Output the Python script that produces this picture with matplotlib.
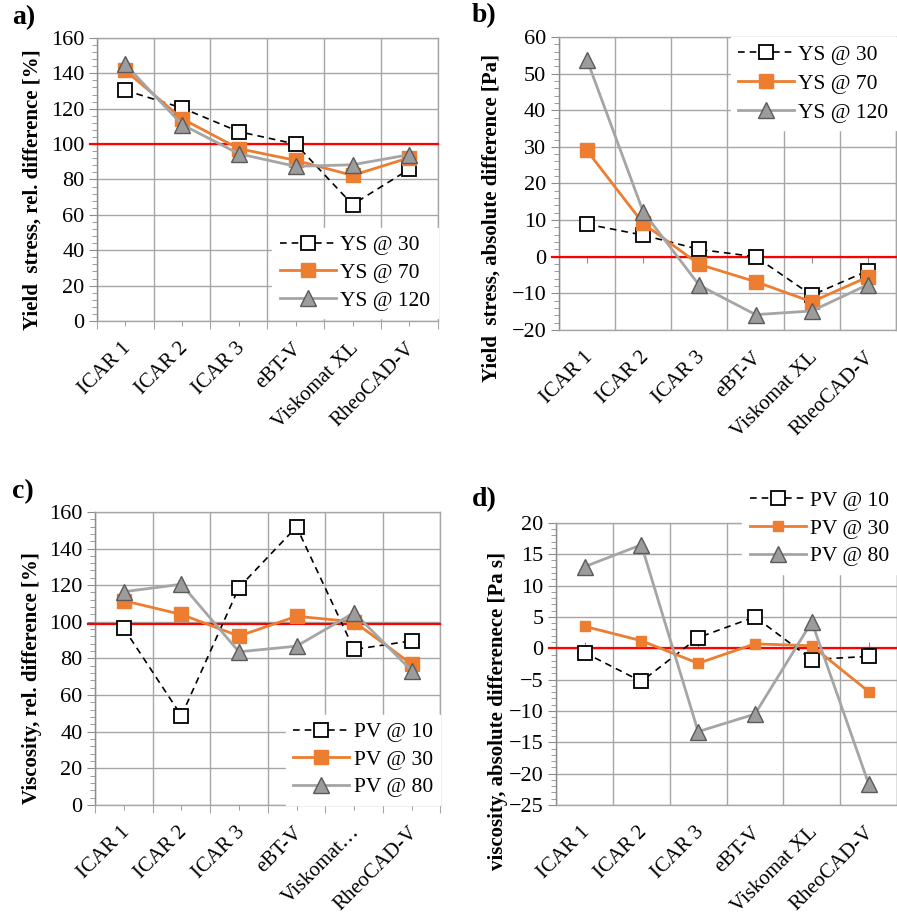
import matplotlib
matplotlib.use("Agg")
import matplotlib.pyplot as plt
from matplotlib.ticker import MultipleLocator, AutoMinorLocator, FixedLocator, NullFormatter
import numpy as np

plt.rcParams['font.family'] = ['Liberation Serif', 'DejaVu Serif']

# --- data -------------------------------------------------------------
devices = ["ICAR 1", "ICAR 2", "ICAR 3", "eBT-V", "Viskomat XL", "RheoCAD-V"]
devices_c = ["ICAR 1", "ICAR 2", "ICAR 3", "eBT-V", "Viskomat\u2026", "RheoCAD-V"]

ys_rel_30 = [130.4, 120.4, 107.0, 100.0, 65.8, 85.8]
ys_rel_70 = [141.7, 114.3, 97.4, 90.8, 82.3, 92.3]
ys_rel_120 = [145.0, 111.0, 94.5, 87.4, 88.3, 94.0]

ys_abs_30 = [8.9, 5.9, 2.0, 0.0, -10.5, -3.8]
ys_abs_70 = [29.0, 9.1, -2.1, -6.8, -12.3, -5.5]
ys_abs_120 = [53.8, 12.3, -7.8, -15.8, -14.8, -7.6]

pv_rel_10 = [96.4, 48.7, 118.7, 151.8, 84.9, 89.6]
pv_rel_30 = [111.5, 104.0, 92.2, 103.0, 100.0, 76.9]
pv_rel_80 = [116.4, 120.5, 83.6, 86.7, 104.9, 73.3]

pv_abs_10 = [-0.7, -5.3, 1.7, 5.0, -1.8, -1.3]
pv_abs_30 = [3.5, 1.2, -2.4, 0.7, 0.4, -6.9]
pv_abs_80 = [13.0, 16.5, -13.3, -10.5, 4.2, -21.6]

ref_rel = 100
ref_rel_c = 99
ref_abs = 0

# --- styling ----------------------------------------------------------
ORANGE = "#ED7D31"
GREY = "#A5A5A5"
GRID = "#A6A6A6"
AXIS = "#8C8C8C"
TICK_FS = 16
CAT_FS = 15
LEG_FS = 15.5
LAB_FS = 15

fig = plt.figure(figsize=(8.97, 9.16), dpi=100)

ax_a = fig.add_axes([0.108, 0.6496, 0.380, 0.309])
ax_b = fig.add_axes([0.623, 0.6397, 0.376, 0.320])
ax_c = fig.add_axes([0.106, 0.1212, 0.385, 0.320])
ax_d = fig.add_axes([0.620, 0.1212, 0.380, 0.308])


def style_axes(ax, labels, ylim, ystep, ylabel, label_xy, zero_axis=False):
    n = len(labels)
    x = np.arange(n)
    ax.set_xlim(-0.5, n - 0.5)
    ax.set_ylim(*ylim)
    ax.yaxis.set_major_locator(MultipleLocator(ystep))
    ax.yaxis.set_minor_locator(AutoMinorLocator(5))
    ax.grid(axis='y', which='major', color=GRID, lw=1.0, zorder=0)
    # category boundaries carry the vertical grid lines
    ax.xaxis.set_major_locator(FixedLocator(np.arange(n + 1) - 0.5))
    ax.xaxis.set_major_formatter(NullFormatter())
    ax.grid(axis='x', which='major', color=GRID, lw=1.0, zorder=0)
    ax.set_axisbelow(True)
    for s in ax.spines.values():
        s.set_color(GRID)
        s.set_linewidth(1.0)
    ax.spines['left'].set_color(AXIS)
    ax.tick_params(axis='y', which='major', direction='out', length=6, color=AXIS,
                   labelsize=TICK_FS, pad=3)
    ax.tick_params(axis='y', which='minor', direction='out', length=3.5, color=AXIS)
    if zero_axis:
        ax.tick_params(axis='x', which='both', length=0)
    else:
        ax.xaxis.set_minor_locator(FixedLocator(x))
        ax.tick_params(axis='x', which='major', direction='out', length=6, color=GRID)
        ax.tick_params(axis='x', which='minor', direction='out', length=3.5, color=AXIS)
    for xi, lab in zip(x, labels):
        ax.annotate(lab, xy=(xi, 0), xycoords=('data', 'axes fraction'),
                    xytext=(7, -13), textcoords='offset points',
                    rotation=45, ha='right', va='top', fontsize=CAT_FS,
                    annotation_clip=False)
    ax.set_ylabel(ylabel, fontsize=LAB_FS, fontweight='bold')
    ax.yaxis.set_label_coords(*label_xy)
    ax.yaxis.label.set_va('bottom')
    if zero_axis:
        frac = (0 - ylim[0]) / (ylim[1] - ylim[0])
        sec = ax.secondary_xaxis(frac)
        sec.set_xticks(x)
        sec.set_xticklabels([])
        sec.tick_params(direction='out', length=4, color=AXIS)
        sec.spines['bottom'].set_color(GRID)
    return x


def draw_series(ax, x, s1, s2, s3, sq_small=False):
    l1, = ax.plot(x, s1, ls=(0, (4, 3)), color='black', lw=1.2,
                  marker='s', ms=10, mfc='white', mec='black', mew=1.3, zorder=4, clip_on=False)
    l2, = ax.plot(x, s2, ls='-', color=ORANGE, lw=2.0,
                  marker='s', ms=7 if sq_small else 10, mfc=ORANGE, mec=ORANGE, zorder=5, clip_on=False)
    l3, = ax.plot(x, s3, ls='-', color=GREY, lw=2.0,
                  marker='^', ms=11, mfc="#9C9C9C", mec="#5A5A5A", mew=1.0, zorder=6, clip_on=False)
    return l1, l2, l3


def ref_line(ax, y):
    ax.plot([-0.02, 1.0], [y, y], transform=ax.get_yaxis_transform(),
            color='#FF0000', lw=1.6, zorder=3, clip_on=False)


def add_legend(ax, handles, names, loc, anchor, spacing=0.35):
    leg = ax.legend(handles, names, loc=loc, bbox_to_anchor=anchor, fontsize=LEG_FS,
                    frameon=True, fancybox=False, framealpha=1.0, edgecolor='white',
                    facecolor='white', handlelength=2.6, handletextpad=0.2,
                    labelspacing=spacing, borderpad=0.35, borderaxespad=0.0)
    leg.set_zorder(7)
    return leg


# a) yield stress, relative
x = style_axes(ax_a, devices, (0, 160), 20, "Yield  stress, rel. difference [%]",
               (-0.158, 0.465))
ref_line(ax_a, ref_rel)
h = draw_series(ax_a, x, ys_rel_30, ys_rel_70, ys_rel_120)
add_legend(ax_a, h, ["YS @ 30", "YS @ 70", "YS @ 120"], 'lower right', (1.0, 0.01))

# b) yield stress, absolute
x = style_axes(ax_b, devices, (-20, 60), 10, "Yield  stress, absolute difference [Pa]",
               (-0.169, 0.382), zero_axis=True)
ref_line(ax_b, ref_abs)
h = draw_series(ax_b, x, ys_abs_30, ys_abs_70, ys_abs_120)
add_legend(ax_b, h, ["YS @ 30", "YS @ 70", "YS @ 120"], 'upper right', (1.0, 1.0),
           spacing=0.42)

# c) viscosity, relative
x = style_axes(ax_c, devices_c, (0, 160), 20, "Viscosity, rel. difference [%]",
               (-0.154, 0.433))
ref_line(ax_c, ref_rel_c)
h = draw_series(ax_c, x, pv_rel_10, pv_rel_30, pv_rel_80)
add_legend(ax_c, h, ["PV @ 10", "PV @ 30", "PV @ 80"], 'lower right', (1.0, 0.0))

# d) viscosity, absolute
x = style_axes(ax_d, devices, (-25, 20), 5, "viscosity, absolute differenece [Pa s]",
               (-0.141, 0.333), zero_axis=True)
ref_line(ax_d, ref_abs)
h = draw_series(ax_d, x, pv_abs_10, pv_abs_30, pv_abs_80, sq_small=True)
add_legend(ax_d, h, ["PV @ 10", "PV @ 30", "PV @ 80"], 'upper right', (1.0, 1.14))

# panel letters
for txt, (px, py) in {"a)": (12, 18), "b)": (472, 16), "c)": (12, 492), "d)": (472, 500)}.items():
    fig.text(px / 897, 1 - py / 916, txt, fontsize=20, fontweight='bold', va='center', ha='left')

fig.savefig("out.png", dpi=100)
